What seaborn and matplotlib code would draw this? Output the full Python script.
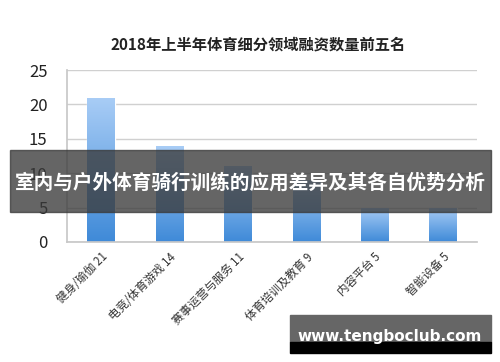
import numpy as np
import pandas as pd
import matplotlib
matplotlib.use("Agg")
import matplotlib.pyplot as plt
import seaborn as sns
from matplotlib.patches import Rectangle
from matplotlib.colors import LinearSegmentedColormap

categories = ["健身/瑜伽 21", "电竞/体育游戏 14", "赛事运营与服务 11", "体育培训及教育 9", "内容平台 5", "智能设备 5"]
values = [21, 14, 11, 9, 5, 5]
yticks = [0, 5, 10, 15, 20, 25]
title = "2018年上半年体育细分领域融资数量前五名"
banner = "室内与户外体育骑行训练的应用差异及其各自优势分析"
watermark = "www.tengboclub.com"

sns.set_theme(style="white")
plt.rcParams['font.family'] = ['Noto Sans CJK SC', 'DejaVu Sans']

fig = plt.figure(figsize=(5, 3.62), dpi=100)
ax = fig.add_axes([0.134, 0.3315, 0.82, 0.475])

df = pd.DataFrame({"cat": categories, "val": values})
sns.barplot(data=df, x="cat", y="val", ax=ax, width=0.4, color="#6aa8ea", saturation=1)

# gradient fill for bars
cmap = LinearSegmentedColormap.from_list("g", ["#3f8ad8", "#a9cdf6"])
grad = np.linspace(0, 1, 256).reshape(-1, 1)
for p in list(ax.patches):
    x0, y0 = p.get_x(), p.get_y()
    w, h = p.get_width(), p.get_height()
    im = ax.imshow(grad, extent=[x0, x0 + w, y0, y0 + h], origin="lower",
                   cmap=cmap, aspect="auto", zorder=p.get_zorder() + 0.1)
    im.set_clip_path(p)
ax.set_xlim(-0.5, len(categories) - 0.5)
ax.set_ylim(0, 25)
ax.set_yticks(yticks)
ax.set_yticklabels([str(v) for v in yticks], fontsize=12, color="#222222")
ax.yaxis.grid(True, color="#d0d0d0", linewidth=1)
ax.set_axisbelow(True)
ax.tick_params(axis="y", length=0, pad=14)
for s in ["top", "right"]:
    ax.spines[s].set_visible(False)
ax.spines["left"].set_color("#c8c8c8")
ax.spines["bottom"].set_color("#c8c8c8")
ax.set_xlabel("")
ax.set_ylabel("")
ax.set_xticks(range(len(categories)))
ax.set_xticklabels(categories, rotation=45, ha="right", rotation_mode="anchor",
                   fontsize=8.3, color="#333333")
ax.tick_params(axis="x", length=0, pad=6)
# minor tick marks at category boundaries
ax.set_xticks(np.arange(-0.5, len(categories), 1), minor=True)
ax.tick_params(axis="x", which="minor", length=3, color="#c8c8c8", direction="out")

fig.text(0.517, 0.876, title, ha="center", va="center", fontsize=11,
         color="#222222", fontweight="bold")

# banner overlay
fig.patches.append(Rectangle((10 / 500, 1 - 212 / 362), 481 / 500, 62 / 362,
                             transform=fig.transFigure, color="#3a3a3a", alpha=0.78, zorder=5))
fig.text(0.501, 1 - 183 / 362, banner, ha="center", va="center", fontsize=14.1,
         color="white", fontweight="bold", zorder=6)

# watermark box
fig.patches.append(Rectangle((290 / 500, 1 - 342 / 362), 201 / 500, 27 / 362,
                             transform=fig.transFigure, color="#666666", zorder=5))
fig.patches.append(Rectangle((290 / 500, 1 - 353 / 362), 201 / 500, 11 / 362,
                             transform=fig.transFigure, color="#000000", zorder=5))
fig.text(390 / 500, 1 - 336 / 362, watermark, ha="center", va="center", fontsize=11,
         color="white", fontweight="bold", zorder=6, family="DejaVu Sans")

fig.savefig("out.png", dpi=100)
